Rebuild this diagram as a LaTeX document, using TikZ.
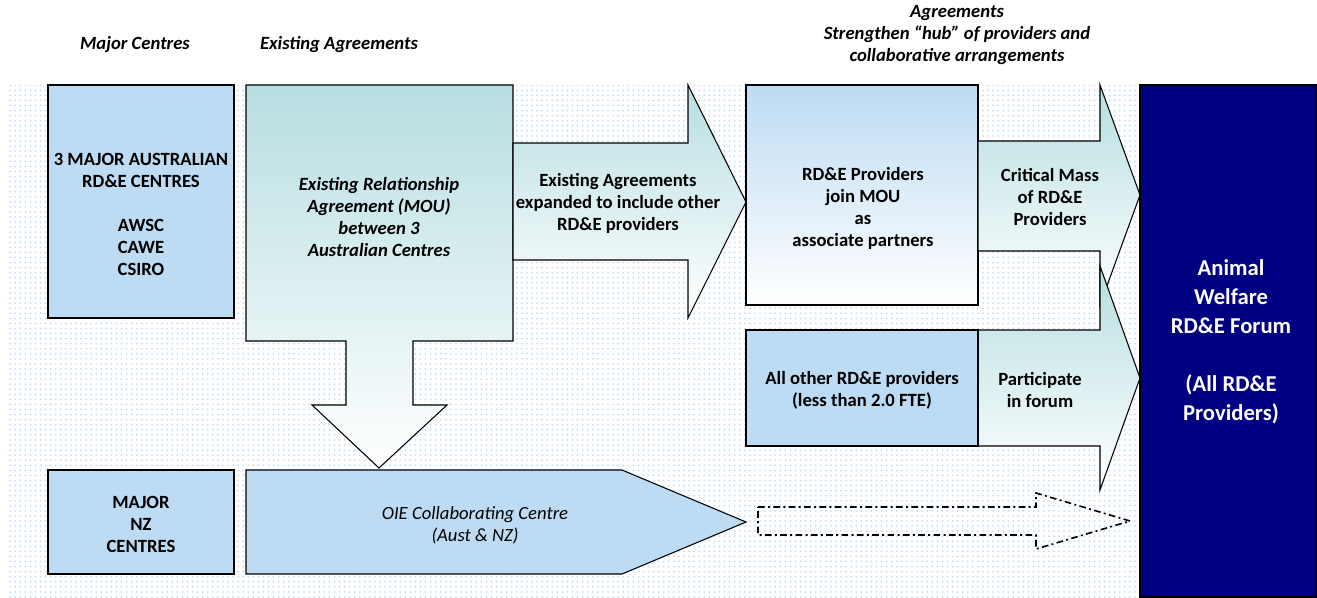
\documentclass[tikz,border=0pt]{standalone}
\usepackage{fontspec}
\setmainfont{Carlito}
\usetikzlibrary{patterns.meta}
\definecolor{lblue}{RGB}{189,219,243}
\definecolor{tealc}{RGB}{183,222,225}
\definecolor{navyb}{RGB}{0,0,128}
\definecolor{dotc}{RGB}{196,220,246}
\tikzdeclarepattern{
  name=bgdots,
  type=uncolored,
  bounding box={(-1.9pt,-1.9pt) and (1.9pt,1.9pt)},
  tile size={(3.8pt,3.8pt)},
  code={\pgfpathcircle{\pgfpointorigin}{0.75pt}\pgfusepath{fill}}
}
\tikzset{
 shp/.style={draw=black, line width=0.8pt},
 tealgrad/.style={shp, top color=tealc, bottom color=white},
 bluegrad/.style={shp, top color=lblue, bottom color=white},
 flat/.style={shp, fill=lblue},
 tx/.style={font=\fontsize{14}{16.5}\selectfont\bfseries, align=center, inner sep=0pt},
 itx/.style={font=\fontsize{14}{16.5}\selectfont\bfseries\itshape, align=center, inner sep=0pt},
 otx/.style={font=\fontsize{14}{16.5}\selectfont\itshape, align=center, inner sep=0pt},
 hdr/.style={font=\fontsize{14}{16.2}\selectfont\bfseries\itshape, align=center, inner sep=0pt},
 ftx/.style={font=\fontsize{17}{21.75}\selectfont\bfseries, text=white, align=center, inner sep=0pt},
}
\begin{document}
\begin{tikzpicture}[x=0.75pt,y=-0.75pt]
\useasboundingbox (0,0) rectangle (1317,597);
\fill[white] (0,0) rectangle (1317,597);
\fill[pattern=bgdots, pattern color=dotc] (7,85) rectangle (1140,597);

% headers
\node[hdr] (hmaj) at (135,45) {Major Centres};
\node[hdr] (hexist) at (339,45) {Existing Agreements};
\node[hdr] (hagr) at (957,35) {Agreements\\Strengthen “hub” of providers and\\collaborative arrangements};

% left column
\draw[flat] (48,85) rectangle (234,318);
\node[tx] (aus) at (141,214) {3 MAJOR AUSTRALIAN\\RD\&E CENTRES\\[16.5pt]AWSC\\CAWE\\CSIRO};

% MOU box with down arrow
\draw[tealgrad] (246,85) -- (513,85) -- (513,341) -- (413,341) -- (413,405) -- (447,405) -- (379,468) -- (312,405) -- (346,405) -- (346,341) -- (246,341) -- cycle;
\node[itx] (mou) at (379,217) {Existing Relationship\\Agreement (MOU)\\between 3\\Australian Centres};

% arrow 1
\draw[tealgrad] (513,143) -- (688,143) -- (688,85) -- (746,202) -- (688,318) -- (688,260) -- (513,260) -- cycle;
\node[tx] (expand) at (618,203) {Existing Agreements\\expanded to include other\\RD\&E providers};

% providers box
\draw[bluegrad] (746,85) rectangle (978,305);
\node[tx] (prov) at (863,208) {RD\&E Providers\\join MOU\\as\\associate partners};

% arrow 2
\draw[tealgrad] (978,141) -- (1100,141) -- (1100,85) -- (1140,195) -- (1100,305) -- (1100,251) -- (978,251) -- cycle;
\node[tx] (crit) at (1050,197) {Critical Mass\\of RD\&E\\Providers};

% arrow 3
\draw[tealgrad] (978,330) -- (1100,330) -- (1100,266) -- (1140,378) -- (1100,490) -- (1100,446) -- (978,446) -- cycle;
\node[tx] (part) at (1040,390) {Participate\\in forum};

% all other box
\draw[flat] (746,330) rectangle (978,446);
\node[tx] (other) at (862,390) {All other RD\&E providers\\(less than 2.0 FTE)};

% forum
\draw[shp, fill=navyb] (1140,85) rectangle (1317,597);
\node[ftx] (forum) at (1231,342) {Animal\\Welfare\\RD\&E Forum\\[21.75pt](All RD\&E\\Providers)};

% NZ
\draw[flat] (48,470) rectangle (234,574);
\node[tx] (nz) at (141,524) {MAJOR\\NZ\\CENTRES};

% OIE arrow
\draw[flat] (246,470) -- (622,470) -- (746,522) -- (622,574) -- (246,574) -- cycle;
\node[otx] (oie) at (475,525) {OIE Collaborating Centre\\(Aust \& NZ)};

% dashed arrow
\draw[line width=1.2pt, dash pattern=on 5pt off 2.5pt on 1.5pt off 2.5pt] (758,507) -- (1036,507) -- (1036,493) -- (1130,521) -- (1036,549) -- (1036,535) -- (758,535) -- cycle;
\end{tikzpicture}
\end{document}
